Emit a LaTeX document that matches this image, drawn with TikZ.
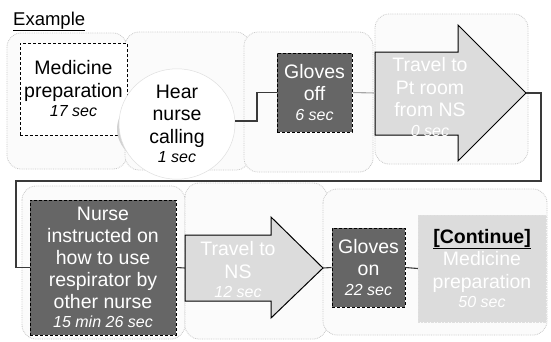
\documentclass[tikz,border=0pt]{standalone}
\usepackage{fontspec}
\setmainfont{Liberation Sans}
\usetikzlibrary{shapes.geometric}
\definecolor{darkbox}{HTML}{666666}
\definecolor{lightbox}{HTML}{DCDCDC}
\definecolor{panelline}{HTML}{C8C8C8}
\definecolor{conn}{HTML}{3A3A3A}
\begin{document}
\begin{tikzpicture}[x=1pt,y=-1pt,
  panel/.style={draw=panelline, densely dotted, line width=0.8pt, rounded corners=14pt, fill=gray!3},
  boxtext/.style={align=center, inner sep=0pt, font=\fontsize{19.5}{22.5}\selectfont},
  darkstep/.style={boxtext, fill=darkbox, draw=black, densely dashed, line width=1pt, text=white},
  arrowshape/.style={fill=lightbox, draw=black, line width=1pt, line join=miter},
  arrowtext/.style={boxtext, text=white},
  connector/.style={draw=conn, line width=1.1pt}
]
\useasboundingbox (0,0) rectangle (551,341);
\fill[white] (0,0) rectangle (551,341);

% title
\node[anchor=base west, inner sep=0pt, font=\fontsize{18.5}{21}\selectfont] (title) at (13,25) {\underline{Example}};

% panels top row
\draw[panel] (7,33) rectangle (127,169);
\draw[panel] (125,32) rectangle (250,170);
\draw[panel] (244,32) rectangle (373,172);
\draw[panel] (375,14) rectangle (528,164);
% panels bottom row
\draw[panel] (22,186) rectangle (185,339);
\draw[panel] (185,183) rectangle (327,339);
\draw[panel] (323,189) rectangle (547,335);

% medicine preparation (dashed, white)
\node[boxtext, draw=black, densely dashed, line width=1pt, fill=white,
      minimum width=107pt, minimum height=92pt] (med) at (73.5,89)
  {Medicine\\preparation\\[-3pt]{\fontsize{16}{19}\selectfont\itshape 17 sec}};

% hear nurse calling (disc)
\fill[gray!35] (175,129) ellipse [x radius=58pt, y radius=41pt];
\node[ellipse, fill=white, draw=gray!25, line width=0.5pt, inner sep=0pt,
      minimum width=116pt, minimum height=82pt, boxtext] (hear) at (177,124)
  {Hear\\nurse\\calling\\[-3pt]{\fontsize{16}{19}\selectfont\itshape 1 sec}};

% gloves off
\node[darkstep, minimum width=75pt, minimum height=79pt] (goff) at (314.5,92.5)
  {Gloves\\off\\[-3pt]{\fontsize{16}{19}\selectfont\itshape 6 sec}};

% arrow 1
\coordinate (a1tail) at (375,93);
\coordinate (a1tip) at (526,93);
\draw[arrowshape] (375,52) -- (458,52) -- (458,25) -- (a1tip) -- (458,161) -- (458,135) -- (375,135) -- cycle;
\node[arrowtext] (a1text) at (430,97)
  {Travel to\\Pt room\\from NS\\[-3pt]{\fontsize{16}{19}\selectfont\itshape 0 sec}};

% nurse instructed
\node[darkstep, minimum width=146pt, minimum height=135pt, font=\fontsize{19.5}{22}\selectfont] (nurse) at (103,267.5)
  {Nurse\\instructed on\\how to use\\respirator by\\other nurse\\[-3pt]{\fontsize{16}{19}\selectfont\itshape 15 min 26 sec}};

% arrow 2
\coordinate (a2tail) at (185,268);
\coordinate (a2tip) at (323,268);
\draw[arrowshape] (185,235) -- (271,235) -- (271,217) -- (a2tip) -- (271,318) -- (271,301) -- (185,301) -- cycle;
\node[arrowtext] (a2text) at (238,270)
  {Travel to\\NS\\[-3pt]{\fontsize{16}{19}\selectfont\itshape 12 sec}};

% gloves on
\node[darkstep, minimum width=73pt, minimum height=79pt] (gon) at (368.5,267.5)
  {Gloves\\on\\[-3pt]{\fontsize{16}{19}\selectfont\itshape 22 sec}};

% continue
\node[boxtext, fill=lightbox, draw=gray!25, densely dotted, minimum width=128pt, minimum height=107pt, text=white] (cont) at (482,268.5)
  {\textcolor{black}{\textbf{\underline{[Continue]}}}\\Medicine\\preparation\\[-3pt]{\fontsize{16}{19}\selectfont\itshape 50 sec}};

% connectors
\coordinate (h1) at (257,121);
\draw[connector] (hear.east |- h1) -- (h1) |- (goff.west);
\draw[connector, draw=gray!70] (goff.east) -- (a1tail);
\coordinate (c1) at (541,181);
\coordinate (c2) at (16,181);
\draw[connector] (a1tip) -| (c1) -- (c2) |- (nurse.west);
\draw[connector] (nurse.east) -- (a2tail);
\draw[connector] (a2tip) -- (gon.west);
\draw[connector] (gon.east) -- (cont.west);
\end{tikzpicture}
\end{document}
